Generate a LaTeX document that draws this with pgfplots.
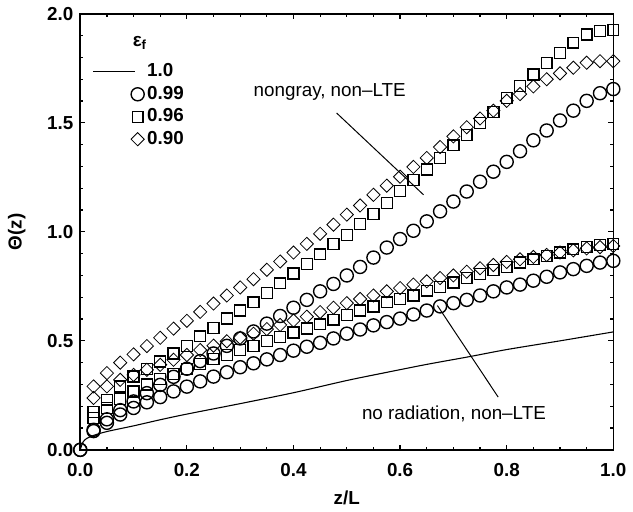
\documentclass[border=0pt]{standalone}
\usepackage{pgfplots}
\usepackage{pgfplotstable}
\pgfplotsset{compat=1.18}
\usepackage{fontspec}
\setmainfont{Liberation Sans}

\pgfplotsset{
  lineleg/.style={legend image code/.code={\path (0pt,-2pt) (26pt,2pt);
     \draw[##1] (0pt,0pt) -- (21pt,0pt);}},
  markleg/.style={legend image code/.code={\path (0pt,-2pt) (26pt,2pt);
     \draw[##1] plot coordinates {(22.5pt,0pt)};}},
}

% nongray, non-LTE group
\pgfplotstableread{
x     c      s      d
0     0      nan    nan
0.025 0.092  0.173  0.291
0.05  0.140  0.230  0.352
0.075 0.182  0.291  0.400
0.1   0.222  0.336  0.438
0.125 0.260  0.370  0.476
0.15  0.298  0.405  0.514
0.175 0.335  0.442  0.556
0.2   0.372  0.477  0.592
0.225 0.407  0.521  0.633
0.25  0.442  0.559  0.671
0.275 0.477  0.602  0.708
0.3   0.511  0.639  0.745
0.325 0.543  0.677  0.783
0.35  0.579  0.720  0.826
0.375 0.614  0.764  0.864
0.4   0.652  0.809  0.905
0.425 0.688  0.852  0.945
0.45  0.727  0.897  0.991
0.475 0.761  0.945  1.033
0.5   0.800  0.986  1.079
0.525 0.839  1.036  1.121
0.55  0.882  1.082  1.170
0.575 0.928  1.132  1.212
0.6   0.967  1.188  1.253
0.625 1.005  1.238  1.298
0.65  1.048  1.286  1.339
0.675 1.094  1.339  1.389
0.7   1.139  1.397  1.438
0.725 1.185  1.445  1.480
0.75  1.230  1.500  1.520
0.775 1.276  1.551  1.556
0.8   1.321  1.613  1.601
0.825 1.370  1.668  1.632
0.85  1.420  1.722  1.667
0.875 1.465  1.775  1.700
0.9   1.511  1.821  1.727
0.925 1.556  1.868  1.753
0.95  1.601  1.905  1.776
0.975 1.636  1.922  1.783
1.0   1.655  1.925  1.783
}\upperdata

% no radiation, non-LTE group
\pgfplotstableread{
x     c      s      d
0     0      nan    nan
0.025 0.086  0.147  0.238
0.05  0.124  0.192  0.291
0.075 0.162  0.233  0.321
0.1   0.192  0.268  0.344
0.125 0.218  0.300  0.367
0.15  0.242  0.325  0.390
0.175 0.268  0.348  0.413
0.2   0.290  0.370  0.435
0.225 0.314  0.394  0.458
0.25  0.336  0.417  0.478
0.275 0.356  0.436  0.498
0.3   0.379  0.458  0.514
0.325 0.397  0.477  0.533
0.35  0.415  0.500  0.554
0.375 0.435  0.518  0.573
0.4   0.455  0.538  0.593
0.425 0.473  0.556  0.611
0.45  0.491  0.576  0.632
0.475 0.511  0.597  0.652
0.5   0.533  0.619  0.673
0.525 0.552  0.639  0.692
0.55  0.571  0.658  0.708
0.575 0.586  0.677  0.727
0.6   0.602  0.692  0.742
0.625 0.621  0.708  0.758
0.65  0.639  0.730  0.773
0.675 0.658  0.748  0.788
0.7   0.673  0.768  0.800
0.725 0.688  0.788  0.817
0.75  0.708  0.806  0.833
0.775 0.727  0.824  0.848
0.8   0.745  0.839  0.862
0.825 0.758  0.859  0.874
0.85  0.776  0.874  0.885
0.875 0.794  0.889  0.894
0.9   0.814  0.905  0.905
0.925 0.829  0.920  0.915
0.95  0.844  0.930  0.924
0.975 0.859  0.939  0.930
1.0   0.867  0.945  0.935
}\lowerdata

\begin{document}
\begin{tikzpicture}
\begin{axis}[
  scale only axis, width=269pt, height=220pt,
  xmin=0, xmax=1, ymin=0, ymax=2,
  xtick={0,0.2,0.4,0.6,0.8,1}, ytick={0,0.5,1,1.5,2},
  minor x tick num=3, minor y tick num=4,
  tick align=inside, major tick length=2.5pt, minor tick length=1.5pt,
  axis line style={line width=0.8pt},
  every tick/.style={black, line width=0.6pt},
  xticklabel style={/pgf/number format/.cd, fixed, fixed zerofill, precision=1},
  yticklabel style={/pgf/number format/.cd, fixed, fixed zerofill, precision=1},
  xticklabel shift=3.5pt,
  /pgf/number format/assume math mode=true,
  tick label style={font=\fontsize{9.5}{11}\selectfont\bfseries},
  label style={font=\fontsize{9.5}{11}\selectfont\bfseries},
  xlabel={z/L}, ylabel={Θ(z)},
  ylabel shift=4pt,
  clip=false,
  legend style={draw=none, fill=none, at={(rel axis cs:0.0223,0.891)}, anchor=north west,
    font=\fontsize{9.5}{11}\selectfont\bfseries, row sep=1.2pt, column sep=0pt,
    inner sep=0pt, nodes={inner sep=1pt}},
  legend cell align=left,
  mk/.style={only marks, mark options={solid, line width=0.7pt, fill=none}},
]
\addplot[black, line width=0.55pt, smooth, mark=none, lineleg]
  coordinates {(0,0) (0.005,0.035) (0.012,0.052) (0.025,0.066) (0.05,0.084) (0.1,0.110)
   (0.15,0.138) (0.2,0.164) (0.3,0.212) (0.4,0.262) (0.5,0.318) (0.574,0.355)
   (0.65,0.392) (0.729,0.427) (0.8,0.460) (0.9,0.500) (1.0,0.541)};
\addlegendentry{1.0}
\addplot[black, mk, mark=o, mark size=3.3pt, markleg]
  table[x=x, y=c] {\upperdata};
\addlegendentry{0.99}
\addplot[black, mk, mark=square, mark size=2.75pt, markleg]
  table[x=x, y=s] {\upperdata};
\addlegendentry{0.96}
\addplot[black, mk, mark=square, mark size=2.35pt, mark options={rotate=45}, markleg]
  table[x=x, y=d] {\upperdata};
\addlegendentry{0.90}
\addplot[black, mk, mark=o, mark size=3.3pt, forget plot] table[x=x, y=c] {\lowerdata};
\addplot[black, mk, mark=square, mark size=2.75pt, forget plot] table[x=x, y=s] {\lowerdata};
\addplot[black, mk, mark=square, mark size=2.35pt, mark options={rotate=45}, forget plot] table[x=x, y=d] {\lowerdata};

\node[font=\fontsize{9.5}{11}\selectfont\bfseries] at (axis cs:0.112,1.868) {ε\textsubscript{f}};
\node[font=\fontsize{9.5}{11}\selectfont] at (axis cs:0.468,1.641) {nongray, non–LTE};
\draw[line width=0.5pt] (axis cs:0.481,1.545) -- (axis cs:0.644,1.170);
\node[font=\fontsize{9.5}{11}\selectfont] at (axis cs:0.701,0.164) {no radiation, non–LTE};
\draw[line width=0.5pt] (axis cs:0.670,0.662) -- (axis cs:0.784,0.242);
\end{axis}
\path (-40.5pt,-28.5pt) rectangle (276pt,227pt);
\end{tikzpicture}
\end{document}
